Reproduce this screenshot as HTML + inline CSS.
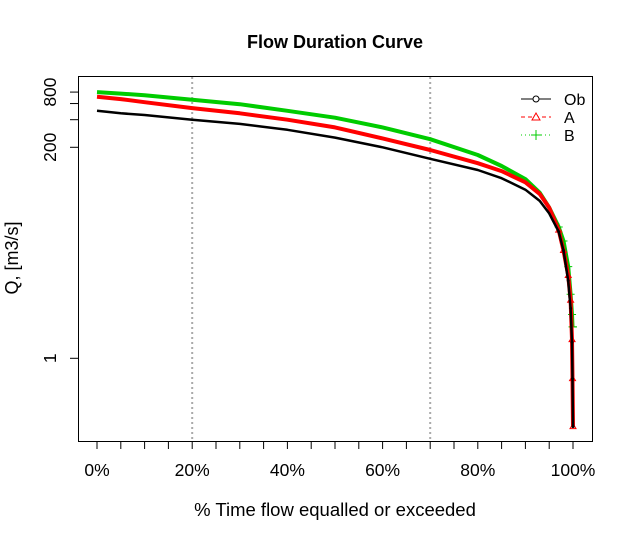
<!DOCTYPE html>
<html><head><meta charset="utf-8"><style>
body{margin:0;background:#fff}
svg text{font-family:"Liberation Sans",Arial,sans-serif}
</style></head><body>
<svg id="chart" width="633" height="540" viewBox="0 0 633 540">
<text x="335" y="48" text-anchor="middle" font-size="18" font-weight="bold">Flow Duration Curve</text>
<rect x="78.5" y="76.5" width="514" height="365" fill="none" stroke="#000"/>
<g id="grid"></g><g id="series"></g><g id="axes"></g>
<text x="335" y="516" text-anchor="middle" font-size="18.5">% Time flow equalled or exceeded</text>
<text transform="translate(18,258) rotate(-90)" text-anchor="middle" font-size="18">Q, [m3/s]</text>
<g>
<line x1="521" y1="99" x2="551" y2="99" stroke="#000"/><circle cx="536" cy="99" r="3" fill="#fff" stroke="#000"/>
<text x="564" y="105" font-size="16">Ob</text>
<line x1="521" y1="117" x2="551" y2="117" stroke="#f00" stroke-dasharray="4,3"/><path d="M532,120 L536,113 L540,120 Z" fill="#fff" stroke="#f00"/>
<text x="564" y="123" font-size="16">A</text>
<line x1="521" y1="135" x2="551" y2="135" stroke="#0c0" stroke-dasharray="1,3"/><path d="M531,135 H541 M536,130 V140" stroke="#0c0"/>
<text x="564" y="141" font-size="16">B</text>
</g>
</svg>
<script>
const pct = [0, 5, 10, 20, 30, 40, 50, 60, 70, 80, 85, 90, 93, 95, 97, 98, 99, 99.5, 99.8, 99.9, 100];
const obs = [500, 470, 450, 400, 360, 310, 255, 200, 150, 113, 92, 69, 52, 38, 24, 15, 7, 3.5, 1.5, 0.6, 0.18];
const simA = [710, 670, 620, 535, 470, 400, 330, 250, 187, 134, 110, 83, 62, 44, 25, 15, 8, 4.3, 1.6, 0.6, 0.18];
const simB = [800, 770, 740, 660, 590, 500, 420, 330, 245, 165, 125, 90, 64, 44, 27, 19, 10, 5, 3, 2.2, 2.2];
const yTicks = [1, 200, 400, 600, 800];
const yLabels = ["1", "200", "", "", "800"];
const xLabels = [0, 20, 40, 60, 80, 100];
const vLines = [20, 70];
const NS = "http://www.w3.org/2000/svg";
const xs = p => 97 + p * 4.76;
const ys = v => 358.3 - Math.log10(v) * 91.7;
function mk(tag, attrs, parent) { const e = document.createElementNS(NS, tag); for (const k in attrs) e.setAttribute(k, attrs[k]); parent.appendChild(e); return e; }
const grid = document.getElementById('grid'), ser = document.getElementById('series'), ax = document.getElementById('axes');
vLines.forEach(p => {
  const l = mk('line', {x1: xs(p), x2: xs(p), y1: 77, y2: 441, stroke: '#aaa', 'stroke-width': 2, 'stroke-dasharray': '2,3'}, grid);
  
  
});
for (let p = 0; p <= 100; p += 5) {
  const t = mk('line', {x1: xs(p), x2: xs(p), y1: 442, y2: 449, stroke: '#000'}, ax);
  
  
}
xLabels.forEach(p => {
  const t = mk('text', {x: xs(p), y: 476, 'text-anchor': 'middle', 'font-size': 17.5}, ax); t.textContent = p + '%';
  
  
});
yTicks.forEach((v, i) => {
  const y = ys(v);
  const t = mk('line', {x1: 70, x2: 78, y1: y, y2: y, stroke: '#000'}, ax);
  
  
  if (yLabels[i]) {
    const l = mk('text', {transform: `translate(56,${y}) rotate(-90)`, 'text-anchor': 'middle', 'font-size': 17.5}, ax); l.textContent = yLabels[i];
    
    
  }
});
function draw(vals, color, w, name, marker) {
  const pts = pct.map((p, i) => xs(p).toFixed(1) + ',' + ys(vals[i]).toFixed(1)).join(' ');
  const pl = mk('polyline', {points: pts, fill: 'none', stroke: color, 'stroke-width': w, 'stroke-linejoin': 'round'}, ser);
  
  
  pct.forEach((p, i) => { if (p >= 97) {
    const x = xs(p), y = ys(vals[i]);
    const m = marker === 'tri' ? mk('path', {d: `M${x-3},${y+2} L${x},${y-3} L${x+3},${y+2} Z`, fill: 'none', stroke: color}, ser)
      : marker === 'plus' ? mk('path', {d: `M${x-4},${y} H${x+4} M${x},${y-4} V${y+4}`, stroke: color}, ser)
      : mk('circle', {cx: x, cy: y, r: 1.5, fill: color}, ser);
    
    
  }});
}
draw(simB, '#00cc00', 4, 'series-b', 'plus');
draw(simA, '#ff0000', 4, 'series-a', 'tri');
draw(obs, '#000000', 2.5, 'series-ob', 'dot');
</script>
</body></html>
